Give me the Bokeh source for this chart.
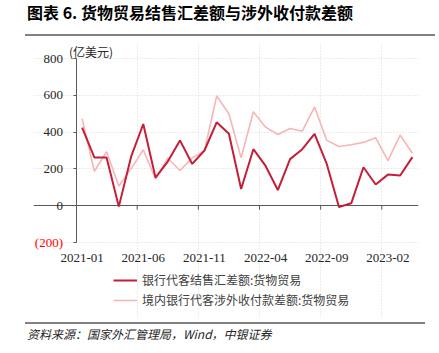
import math
from bokeh.plotting import figure
from bokeh.layouts import column
from bokeh.models import (FixedTicker, Legend, LegendItem, LinearAxis, Range1d, Grid,
                          Label, Div)
from bokeh.embed import file_html
from bokeh.resources import INLINE

months = ["2021-01", "2021-02", "2021-03", "2021-04", "2021-05", "2021-06", "2021-07",
          "2021-08", "2021-09", "2021-10", "2021-11", "2021-12", "2022-01", "2022-02",
          "2022-03", "2022-04", "2022-05", "2022-06", "2022-07", "2022-08", "2022-09",
          "2022-10", "2022-11", "2022-12", "2023-01", "2023-02", "2023-03", "2023-04"]
fx_settlement = [424, 262, 262, -5, 265, 444, 153, 240, 355, 227, 300, 453, 391, 91,
                 307, 216, 85, 253, 307, 391, 227, -7, 13, 209, 115, 169, 164, 264]
cross_border = [473, 187, 293, 107, 200, 304, 144, 258, 191, 260, 298, 596, 500, 260,
                511, 427, 387, 420, 405, 536, 355, 322, 331, 344, 369, 245, 384, 285]
x_tick_labels = ["2021-01", "2021-06", "2021-11", "2022-04", "2022-09", "2023-02"]
y_ticks = [-200, 0, 200, 400, 600, 800]
y_tick_labels = ["(200)", "0", "200", "400", "600", "800"]
series_names = ["银行代客结售汇差额:货物贸易", "境内银行代客涉外收付款差额:货物贸易"]
title_text = "图表 6. 货物贸易结售汇差额与涉外收付款差额"
unit_text = "(亿美元)"
source_text = "资料来源：国家外汇管理局，Wind，中银证券"

DARK = "#C41E3A"
LIGHT = "#F4B6B6"
AXIS = "#595959"
SERIF = "Liberation Serif"
CJK = "Noto Sans CJK SC"

idx = list(range(len(months)))
n = len(months)

# page pixel layout
FIG_TOP, FRAME_TOP, PLOT_TOP, PLOT_BOTTOM, FRAME_BOTTOM = 37, 42, 58, 242, 318
FRAME_LEFT, PLOT_LEFT, PLOT_RIGHT = 33, 75.5, 418
uy = (y_ticks[-1] - y_ticks[0]) / (PLOT_BOTTOM - PLOT_TOP)
ux = n / (PLOT_RIGHT - PLOT_LEFT)
y_min = y_ticks[0] - (FRAME_BOTTOM - PLOT_BOTTOM) * uy
y_max = y_ticks[-1] + (PLOT_TOP - FRAME_TOP) * uy
x_min = -0.5 - (PLOT_LEFT - FRAME_LEFT) * ux

p = figure(width=439, height=FRAME_BOTTOM - FIG_TOP, output_backend="svg",
           toolbar_location=None,
           x_range=Range1d(x_min, n - 0.5), y_range=Range1d(y_min, y_max),
           min_border_left=FRAME_LEFT, min_border_right=int(439 - PLOT_RIGHT),
           min_border_top=FRAME_TOP - FIG_TOP, min_border_bottom=0,
           x_axis_type=None, y_axis_type=None, title=None)
p.outline_line_color = None

label_pos = [months.index(l) for l in x_tick_labels]
between = [i - 0.5 for i in label_pos[1:]]

# grids
p.add_layout(Grid(dimension=1, ticker=FixedTicker(ticks=[t for t in y_ticks if t != 0]),
                  grid_line_color="#D9D9D9", grid_line_dash="1 2",
                  bounds=(-0.5, n - 0.5)))
p.add_layout(Grid(dimension=0, ticker=FixedTicker(ticks=between),
                  grid_line_color="#D9D9D9", grid_line_dash="1 2",
                  bounds=(y_ticks[0], y_ticks[-1])))
# zero line
p.add_layout(Grid(dimension=1, ticker=FixedTicker(ticks=[0]), grid_line_color=AXIS,
                  grid_line_width=1, bounds=(-0.5, n - 0.5)))
p.ray(x=between, y=[0] * len(between), length=4, length_units="screen",
      angle=-math.pi / 2, line_color=AXIS, line_width=1)

# x tick labels
p.text(x=label_pos, y=[y_ticks[0]] * len(label_pos), text=[months[i] for i in label_pos],
       y_offset=11, text_align="center", text_baseline="top", text_font=SERIF,
       text_font_size="13px", text_color="#262626")

yax = LinearAxis(fixed_location=-0.5, ticker=FixedTicker(ticks=y_ticks),
                 bounds=(y_ticks[0], y_ticks[-1]),
                 major_label_overrides={t: (l if t != -200 else "") for t, l in zip(y_ticks, y_tick_labels)},
                 axis_line_color=AXIS, major_tick_line_color=AXIS,
                 major_tick_in=0, major_tick_out=3, minor_tick_line_color=None,
                 major_label_standoff=10, major_label_text_font=SERIF,
                 major_label_text_font_size="13px", major_label_text_color="#262626")
p.add_layout(yax, "left")
p.add_layout(Label(x=-0.5, y=y_ticks[0], x_offset=-13, text=y_tick_labels[0],
                   text_align="right", text_baseline="middle", text_color="#FF0000",
                   text_font=SERIF, text_font_size="13px"))
p.add_layout(Label(x=-0.5, y=y_ticks[-1], x_offset=-7, y_offset=7, text=unit_text,
                   text_align="left", text_baseline="middle", text_color="#262626",
                   text_font=CJK, text_font_size="12px"))

r_light = p.line(idx, cross_border, line_color=LIGHT, line_width=1.6)
r_dark = p.line(idx, fx_settlement, line_color=DARK, line_width=2)

legend = Legend(items=[LegendItem(label=series_names[0], renderers=[r_dark]),
                       LegendItem(label=series_names[1], renderers=[r_light])],
                location=(113 - FRAME_LEFT, 10), orientation="vertical",
                border_line_color=None, background_fill_alpha=0, padding=0, margin=0,
                spacing=3, glyph_width=24, glyph_height=12, label_height=12,
                label_standoff=5, label_text_font=CJK, label_text_font_size="12px",
                label_text_color="#404040")
p.add_layout(legend)

title_div = Div(
    text=(f'<div style="font-family:\'Noto Sans CJK SC\';font-weight:bold;font-size:16px;'
          f'color:#000;line-height:20px;padding:2px 0 0 27px;height:34px;'
          f'box-sizing:border-box;white-space:nowrap;">{title_text}</div>'
          '<div style="margin-left:25px;width:410px;border-top:2px solid #808080;"></div>'),
    width=439, height=FIG_TOP, margin=0)
source_div = Div(
    text=('<div style="margin-left:25px;margin-top:4px;width:400px;border-top:2px solid #808080;"></div>'
          f'<div style="font-family:\'Noto Sans CJK SC\';font-style:italic;font-size:12px;'
          f'color:#262626;line-height:16px;padding:2px 0 0 27px;white-space:nowrap;">{source_text}</div>'),
    width=439, height=353 - FRAME_BOTTOM, margin=0)

layout = column(title_div, p, source_div, spacing=0, margin=0)
open("out.html", "w").write(file_html(layout, INLINE))
